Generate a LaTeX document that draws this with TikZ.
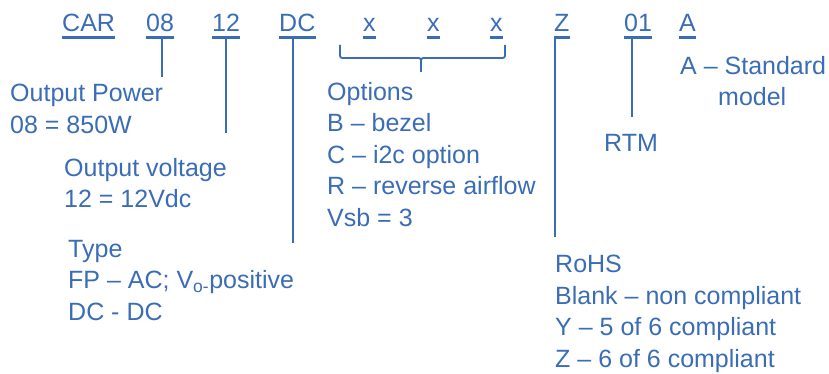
\documentclass[tikz,border=0pt]{standalone}
\usepackage{fontspec}
\setmainfont{Liberation Sans}
\definecolor{tc}{HTML}{3A6DB5}
\begin{document}
\begin{tikzpicture}[x=1pt,y=1pt,
  txt/.style={anchor=base west,inner sep=0pt,text=tc,font=\fontsize{25}{31.5}\selectfont,align=left},
  ul/.style={draw=tc,line width=3pt},
  conn/.style={draw=tc,line width=2pt}]
\useasboundingbox (0,0) rectangle (829,-374);
% top row
\node[txt] (car) at (62,-32) {CAR};
\node[txt] (n08) at (146,-32) {08};
\node[txt] (n12) at (212,-32) {12};
\node[txt] (ndc) at (279,-32) {DC};
\node[txt] (x1) at (363,-32) {x};
\node[txt] (x2) at (427,-32) {x};
\node[txt] (x3) at (490,-32) {x};
\node[txt] (nz) at (554,-32) {Z};
\node[txt] (n01) at (624,-32) {01};
\node[txt] (na) at (679,-32) {A};
\foreach \n in {car,n08,n12,ndc,x1,x2,x3,nz,n01,na}
  \draw[ul] ([yshift=-5.5pt]\n.base west) -- ([yshift=-5.5pt]\n.base east);
% descriptions (anchor = baseline of last line)
\node[txt] (power) at (10,-133.5) {Output Power\\08 = 850W};
\node[txt] (volt) at (64,-207.5) {Output voltage\\12 = 12Vdc};
\node[txt] (type) at (68,-320) {Type\\FP – AC; V\textsubscript{o-}positive\\DC - DC};
\node[txt] (opt) at (327,-226) {Options\\B – bezel\\C – i2c option\\R – reverse airflow\\Vsb = 3};
\node[txt] (std) at (680,-106) {A – Standard\\\hspace*{38pt}model};
\node[txt] (rtm) at (604,-152) {RTM};
\node[txt] (rohs) at (555,-367) {RoHS\\Blank – non compliant\\Y – 5 of 6 compliant\\Z – 6 of 6 compliant};
% connector ends
\coordinate (e08) at (162,-77);
\coordinate (e12) at (226,-133);
\coordinate (edc) at (293,-243);
\coordinate (ez) at (555,-237);
\coordinate (e01) at (632,-117);
\draw[conn] (e08 |- 0,-38) -- (e08);
\draw[conn] (e12 |- 0,-38) -- (e12);
\draw[conn] (edc |- 0,-38) -- (edc);
\draw[conn] (ez |- 0,-38) -- (ez);
\draw[conn] (e01 |- 0,-38) -- (e01);
% brace
\coordinate (bl) at (340,-45);
\coordinate (br) at (505,-45);
\coordinate (bm) at (421,-72);
\draw[conn,line width=1.8pt] (bl) -- (340,-53) .. controls (340,-58) .. (345,-58) -- (416,-58) .. controls (421,-58) .. (421,-63) -- (bm);
\draw[conn,line width=1.8pt] (br) -- (505,-53) .. controls (505,-58) .. (500,-58) -- (426,-58) .. controls (421,-58) .. (421,-63);
\end{tikzpicture}
\end{document}
